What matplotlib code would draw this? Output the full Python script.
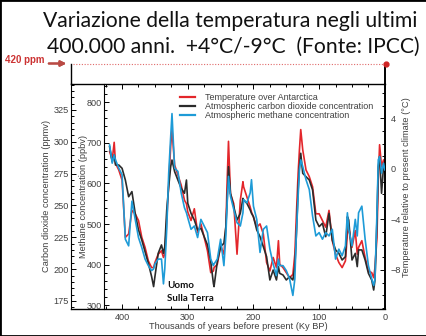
import matplotlib.pyplot as plt
from matplotlib.lines import Line2D
from matplotlib.patches import Rectangle
from matplotlib.ticker import MultipleLocator

# thousands of years before present
ages = [419, 415, 412, 410, 405, 400, 395, 390, 385, 380,
        375, 370, 365, 360, 355, 352, 350, 345, 340, 337,
        335, 332, 329, 326, 324, 320, 315, 310, 305, 302,
        300, 295, 290, 285, 280, 275, 270, 265, 261, 260,
        255, 250, 245, 242, 240, 238, 235, 230, 225, 220,
        216, 215, 210, 205, 203, 200, 195, 190, 185, 180,
        175, 170, 165, 162, 160, 155, 150, 145, 140, 137,
        135, 132, 130, 128, 125, 120, 115, 110, 105, 100,
        95, 90, 85, 80, 75, 70, 65, 60, 57, 55,
        50, 45, 42, 40, 35, 30, 25, 20, 17, 15,
        12, 10, 8, 5, 2, 0]

# temperature relative to present (deg C)
temperature = [1.39, 0.72, 2.11, 0.45, -0.08, -0.88, -5.41, -5.15, -3.28, -3.55,
               -4.08, -5.41, -6.21, -7.28, -7.81, -7.81, -7.41, -6.75, -6.48, -7.01,
               -6.75, -4.08, -1.15, 1.79, 3.12, 0.32, -0.48, -1.28, -2.48, -2.75,
               -3.41, -4.08, -3.15, -5.01, -4.35, -5.41, -6.48, -8.21, -8.08, -7.81,
               -7.55, -6.08, -6.75, -4.61, -0.88, 2.19, -1.95, -2.75, -6.75, -2.48,
               -1.01, -1.41, -2.21, -3.01, -3.41, -3.81, -4.61, -4.35, -5.15, -7.41,
               -8.08, -7.01, -7.81, -5.68, -7.55, -7.81, -8.21, -8.61, -8.35, -6.75,
               -4.08, -0.35, 1.52, 3.12, 1.52, -0.08, -0.61, -1.41, -3.55, -3.55,
               -4.08, -4.61, -3.28, -5.68, -6.75, -7.41, -7.81, -7.28, -5.15, -4.61,
               -6.21, -4.88, -6.75, -6.21, -5.68, -7.01, -8.08, -8.21, -8.61, -7.81,
               -5.41, -0.88, 1.92, 0.19, 0.72, -0.35]

# carbon dioxide (ppmv)
co2 = [296.2, 284.4, 289.7, 281.8, 281.8, 279.2, 270.0, 256.9, 260.9, 243.8,
       230.8, 222.9, 213.7, 204.6, 194.1, 186.3, 194.1, 212.4, 219.0, 212.4,
       217.7, 246.5, 264.8, 280.5, 285.7, 276.6, 270.0, 263.5, 259.6, 270.0,
       251.7, 243.8, 238.6, 230.8, 232.1, 225.5, 219.0, 205.9, 188.9, 186.3,
       205.9, 217.7, 220.3, 233.4, 254.3, 280.5, 259.6, 249.1, 238.6, 243.8,
       255.6, 254.3, 251.7, 246.5, 243.8, 241.2, 230.8, 225.5, 217.7, 209.8,
       191.5, 199.3, 191.5, 202.0, 196.7, 195.4, 191.5, 194.1, 191.5, 202.0,
       222.9, 262.2, 280.5, 291.0, 275.3, 272.6, 270.0, 262.2, 238.6, 233.4,
       236.0, 225.5, 243.8, 222.9, 215.1, 212.4, 207.2, 209.8, 241.2, 238.6,
       207.2, 212.4, 202.0, 215.1, 215.1, 207.2, 196.7, 191.5, 183.6, 191.5,
       238.6, 280.5, 288.4, 259.6, 280.5, 277.9]

# methane (ppbv)
methane = [694.3, 649.6, 669.9, 657.7, 637.4, 621.1, 462.6, 446.3, 556.1, 511.4,
           466.7, 442.3, 413.8, 397.6, 385.4, 389.4, 401.6, 413.8, 413.8, 352.8,
           389.4, 487.0, 625.2, 714.6, 771.5, 637.4, 629.3, 576.4, 539.8, 527.6,
           515.4, 487.0, 495.1, 466.7, 511.4, 495.1, 478.9, 413.8, 397.6, 401.6,
           413.8, 462.6, 397.6, 470.7, 552.0, 617.1, 568.3, 535.8, 503.3, 495.1,
           527.6, 560.2, 552.0, 576.4, 608.9, 543.9, 511.4, 430.1, 487.0, 495.1,
           438.2, 401.6, 373.2, 413.8, 397.6, 397.6, 385.4, 365.0, 324.4, 365.0,
           462.6, 568.3, 633.3, 657.7, 641.5, 608.9, 584.6, 519.5, 470.7, 478.9,
           462.6, 478.9, 470.7, 487.0, 413.8, 438.2, 422.0, 446.3, 527.6, 487.0,
           446.3, 511.4, 470.7, 527.6, 543.9, 462.6, 397.6, 365.0, 348.8, 365.0,
           527.6, 657.7, 665.9, 625.2, 649.6, 633.3]

legend_labels = ["Temperature over Antarctica",
                 "Atmospheric carbon dioxide concentration",
                 "Atmospheric methane concentration"]
x_ticks = [400, 300, 200, 100, 0]
ch4_ticks = [300, 400, 500, 600, 700, 800]
co2_ticks = [175, 200, 225, 250, 275, 300, 325]
temp_ticks = [-8, -4, 0, 4]

RED = "#e3262b"
DARK = "#2b2b2b"
BLUE = "#1e9bd7"
TXT = "#404040"

W, H = 427, 336
fig = plt.figure(figsize=(W / 100, H / 100), dpi=100)


def fx(px):
    return px / W


def fy(py):
    return 1 - py / H


x0, x1, y0, y1 = 104, 385.5, 83.5, 309
ax = fig.add_axes([fx(x0), fy(y1), fx(x1) - fx(x0), fy(y0) - fy(y1)])
ax_co2 = ax.twinx()
ax_t = ax.twinx()

l_t, = ax_t.plot(ages, temperature, color=RED, lw=1.2, zorder=2)
l_c, = ax_co2.plot(ages, co2, color=DARK, lw=1.2, zorder=3)
l_m, = ax.plot(ages, methane, color=BLUE, lw=1.2, zorder=2)

ax.set_xlim(427.5, -1)
ax.set_ylim(291, 845.5)
ax_co2.set_ylim(168.7, 345.8)
ax_t.set_ylim(-11.09, 6.77)

# methane line on top, then CO2, then temperature
ax_co2.set_zorder(1)
ax_t.set_zorder(0)
ax.set_zorder(2)
ax.patch.set_visible(False)

for a in (ax, ax_co2, ax_t):
    for s in a.spines.values():
        s.set_visible(False)

ax.spines["left"].set_visible(True)
ax_co2.spines["left"].set_visible(True)
ax_co2.spines["left"].set_position(("axes", -(x0 - 71) / (x1 - x0)))
ax_co2.yaxis.tick_left()
ax_co2.yaxis.set_label_position("left")
ax_t.spines["right"].set_visible(True)
ax_t.spines["right"].set_linewidth(1.4)

for a in (ax, ax_co2, ax_t):
    for s in a.spines.values():
        s.set_color("black")

ax.set_xticks(x_ticks)
ax.xaxis.set_minor_locator(MultipleLocator(25))
ax.tick_params(axis="x", which="both", direction="in", top=True, bottom=True,
               labelsize=6.6, labelcolor=TXT, pad=3, width=0.7)
ax.tick_params(axis="x", which="major", length=3.5)
ax.tick_params(axis="x", which="minor", length=2)

ax.set_yticks(ch4_ticks)
ax.yaxis.set_minor_locator(MultipleLocator(20))
ax.tick_params(axis="y", which="both", direction="in", labelsize=6.6,
               labelcolor=TXT, pad=1.5, width=0.7)
ax.tick_params(axis="y", which="major", length=3.5)
ax.tick_params(axis="y", which="minor", length=2)

ax_co2.set_yticks(co2_ticks)
ax_co2.yaxis.set_minor_locator(MultipleLocator(5))
ax_co2.tick_params(axis="y", which="both", direction="in", labelsize=6.6,
                   labelcolor=TXT, pad=1.5, width=0.7)
ax_co2.tick_params(axis="y", which="major", length=3.5)
ax_co2.tick_params(axis="y", which="minor", length=2)

ax_t.set_yticks(temp_ticks)
ax_t.yaxis.set_minor_locator(MultipleLocator(1))
ax_t.tick_params(axis="y", which="both", direction="in", labelsize=6.6,
                 labelcolor=TXT, pad=3.5, width=0.7)
ax_t.tick_params(axis="y", which="major", length=3.5)
ax_t.tick_params(axis="y", which="minor", length=2)

for a in (ax, ax_co2, ax_t):
    for lab in a.get_xticklabels() + a.get_yticklabels():
        lab.set_family("Liberation Sans")

lab_kw = dict(fontsize=6.7, color=TXT, family="Liberation Sans")
ax.set_xlabel("Thousands of years before present (Ky BP)", **lab_kw)
ax.xaxis.set_label_coords((238 - x0) / (x1 - x0), -(322 - y1) / (y1 - y0))
ax.set_ylabel("Methane concentration (ppbv)", **lab_kw)
ax.yaxis.set_label_coords(-(x0 - 88) / (x1 - x0), 0.5)
ax_co2.set_ylabel("Carbon dioxide concentration (ppmv)", **lab_kw)
ax_co2.yaxis.set_label_coords(-(x0 - 51) / (x1 - x0), 0.5)
ax_t.set_ylabel("Temperature relative to present climate (°C)", **lab_kw)
ax_t.yaxis.set_label_coords((402 - x0) / (x1 - x0), 0.54)

leg = ax.legend([l_t, l_c, l_m], legend_labels, loc="upper left",
                bbox_to_anchor=((180 - x0) / (x1 - x0), 1 - (93 - y0) / (y1 - y0)),
                frameon=False, borderpad=0, borderaxespad=0, handlelength=1.7,
                handletextpad=1.1, labelspacing=0.0,
                prop={"family": "Liberation Sans", "size": 6.5})
for t in leg.get_texts():
    t.set_color(TXT)
for h in leg.legend_handles:
    h.set_linewidth(1.6)

# frame lines of the original figure and the 420 ppm extension
frame = dict(color="black", lw=1.0, transform=fig.transFigure)
fig.add_artist(Line2D([fx(71), fx(x1)], [fy(y0), fy(y0)], **frame))
fig.add_artist(Line2D([fx(71), fx(x1)], [fy(y1), fy(y1)], **frame))
fig.add_artist(Line2D([fx(71), fx(71)], [fy(63.5), fy(y0)], **frame))
fig.add_artist(Line2D([fx(x1), fx(x1)], [fy(63.5), fy(y0)], color="black",
                      lw=1.4, transform=fig.transFigure))
fig.add_artist(Line2D([fx(73), fx(385)], [fy(63.5), fy(63.5)], color="#e06a6a",
                      lw=0.8, linestyle=(0, (1, 1.5)), transform=fig.transFigure))
fig.add_artist(Line2D([fx(386)], [fy(63.5)], marker="o", markersize=3.5,
                      color="#d02525", transform=fig.transFigure))
fig.text(fx(5), fy(60), "420 ppm", fontsize=7, fontweight="bold", color="#cc3333",
         family="Liberation Sans", ha="left", va="center")
fig.add_artist(plt.annotate("", xy=(fx(69), fy(63.5)), xytext=(fx(46), fy(63.5)),
                            xycoords="figure fraction",
                            arrowprops=dict(arrowstyle="-|>", color="#b94a44",
                                            lw=1.5, mutation_scale=8)))

fig.text(fx(167), fy(292), "Uomo\nSulla Terra", fontsize=7, fontweight="bold",
         color="#111111", family="Lato", ha="left", va="center", linespacing=1.5)

fig.text(fx(230.5), fy(26.7), "Variazione della temperatura negli ultimi",
         fontsize=15.2, family="Lato", ha="center", va="baseline", color="#111111")
fig.text(fx(233), fy(53.3), "400.000 anni.  +4°C/-9°C  (Fonte: IPCC)",
         fontsize=15.2, family="Lato", ha="center", va="baseline", color="#111111")

fig.add_artist(Rectangle((0, 0), 1, 1, transform=fig.transFigure, fill=False,
                         edgecolor="black", lw=2))

fig.savefig("out.png", dpi=100)
